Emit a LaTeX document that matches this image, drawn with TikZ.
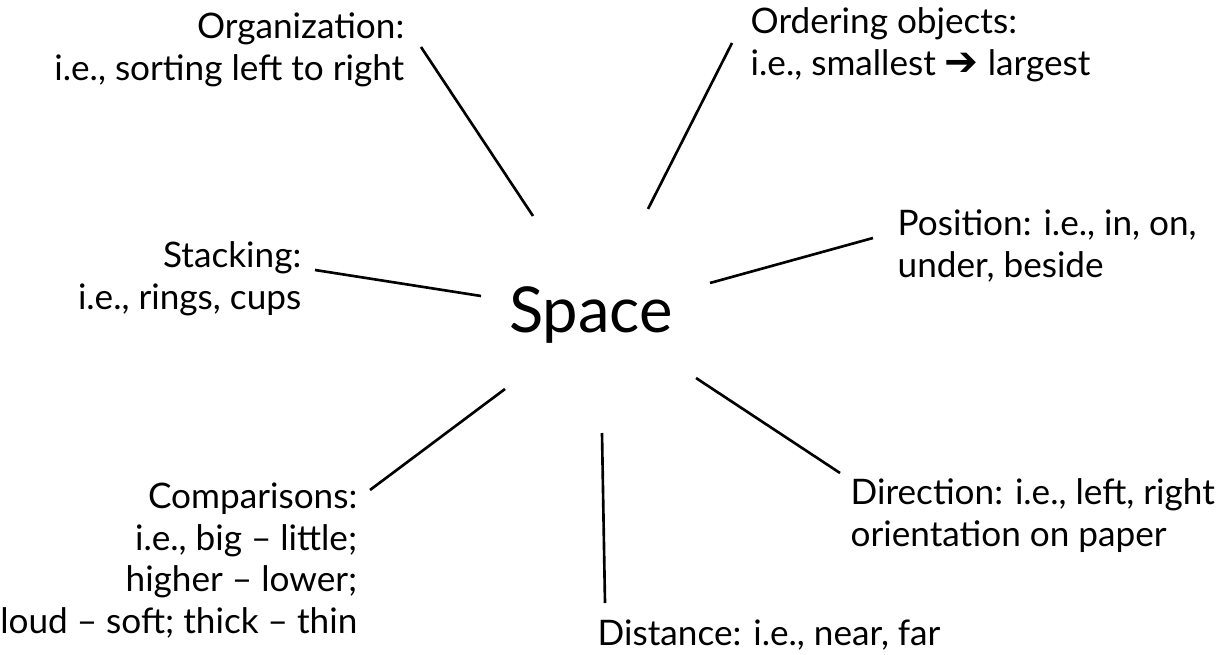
\documentclass[tikz,border=0pt]{standalone}
\usepackage{fontspec}
\setmainfont{Lato}
\newfontfamily\symfont{DejaVu Sans}
\newcommand{\topstrut}{\rule{0pt}{10pt}}
\begin{document}
\begin{tikzpicture}[x=0.01cm,y=-0.01cm,
  lbl/.style={inner sep=0pt, font=\fontsize{10}{11.8}\selectfont},
  lblr/.style={lbl, align=right, anchor=north east},
  lbll/.style={lbl, align=left, anchor=north west},
  conn/.style={line width=0.75pt, black}]
\useasboundingbox (0,0) rectangle (1227,655);
% first-line baseline = node north + 35.15 units
\node[inner sep=0pt, anchor=base, font=\fontsize{18}{20}\selectfont] (space) at (591,333) {Space};
\node[lblr] (org) at (405,3) {\topstrut Organization:\\i.e., sorting left to right};
\node[lbll] (ord) at (750,-2) {\topstrut Ordering objects:\\i.e., smallest {\symfont\bfseries\fontsize{11.5}{11.8}\selectfont ➔} largest};
\node[lbll] (pos) at (897,200) {\topstrut Position: i.e., in, on,\\under, beside};
\node[lblr] (stk) at (302,232) {\topstrut Stacking:\\i.e., rings, cups};
\node[lblr] (cmp) at (358,473) {\topstrut Comparisons:\\i.e., big -- little;\\higher -- lower;\\loud -- soft; thick -- thin};
\node[lbll] (dir) at (850,469) {\topstrut Direction: i.e., left, right\\orientation on paper};
\node[lbll] (dst) at (597,610) {\topstrut Distance: i.e., near, far};
\coordinate (orgA) at (421,47); \coordinate (orgB) at (533,216);
\coordinate (ordA) at (732,43); \coordinate (ordB) at (648,209);
\coordinate (posA) at (873,238); \coordinate (posB) at (710,283);
\coordinate (stkA) at (315,270); \coordinate (stkB) at (481,296);
\coordinate (cmpA) at (370,490); \coordinate (cmpB) at (505,389);
\coordinate (dstA) at (605,603); \coordinate (dstB) at (602,433);
\coordinate (dirA) at (840,473); \coordinate (dirB) at (696,378);
\draw[conn] (orgA) -- (orgB);
\draw[conn] (ordA) -- (ordB);
\draw[conn] (posA) -- (posB);
\draw[conn] (stkA) -- (stkB);
\draw[conn] (cmpA) -- (cmpB);
\draw[conn] (dstA) -- (dstB);
\draw[conn] (dirA) -- (dirB);
\end{tikzpicture}
\end{document}
